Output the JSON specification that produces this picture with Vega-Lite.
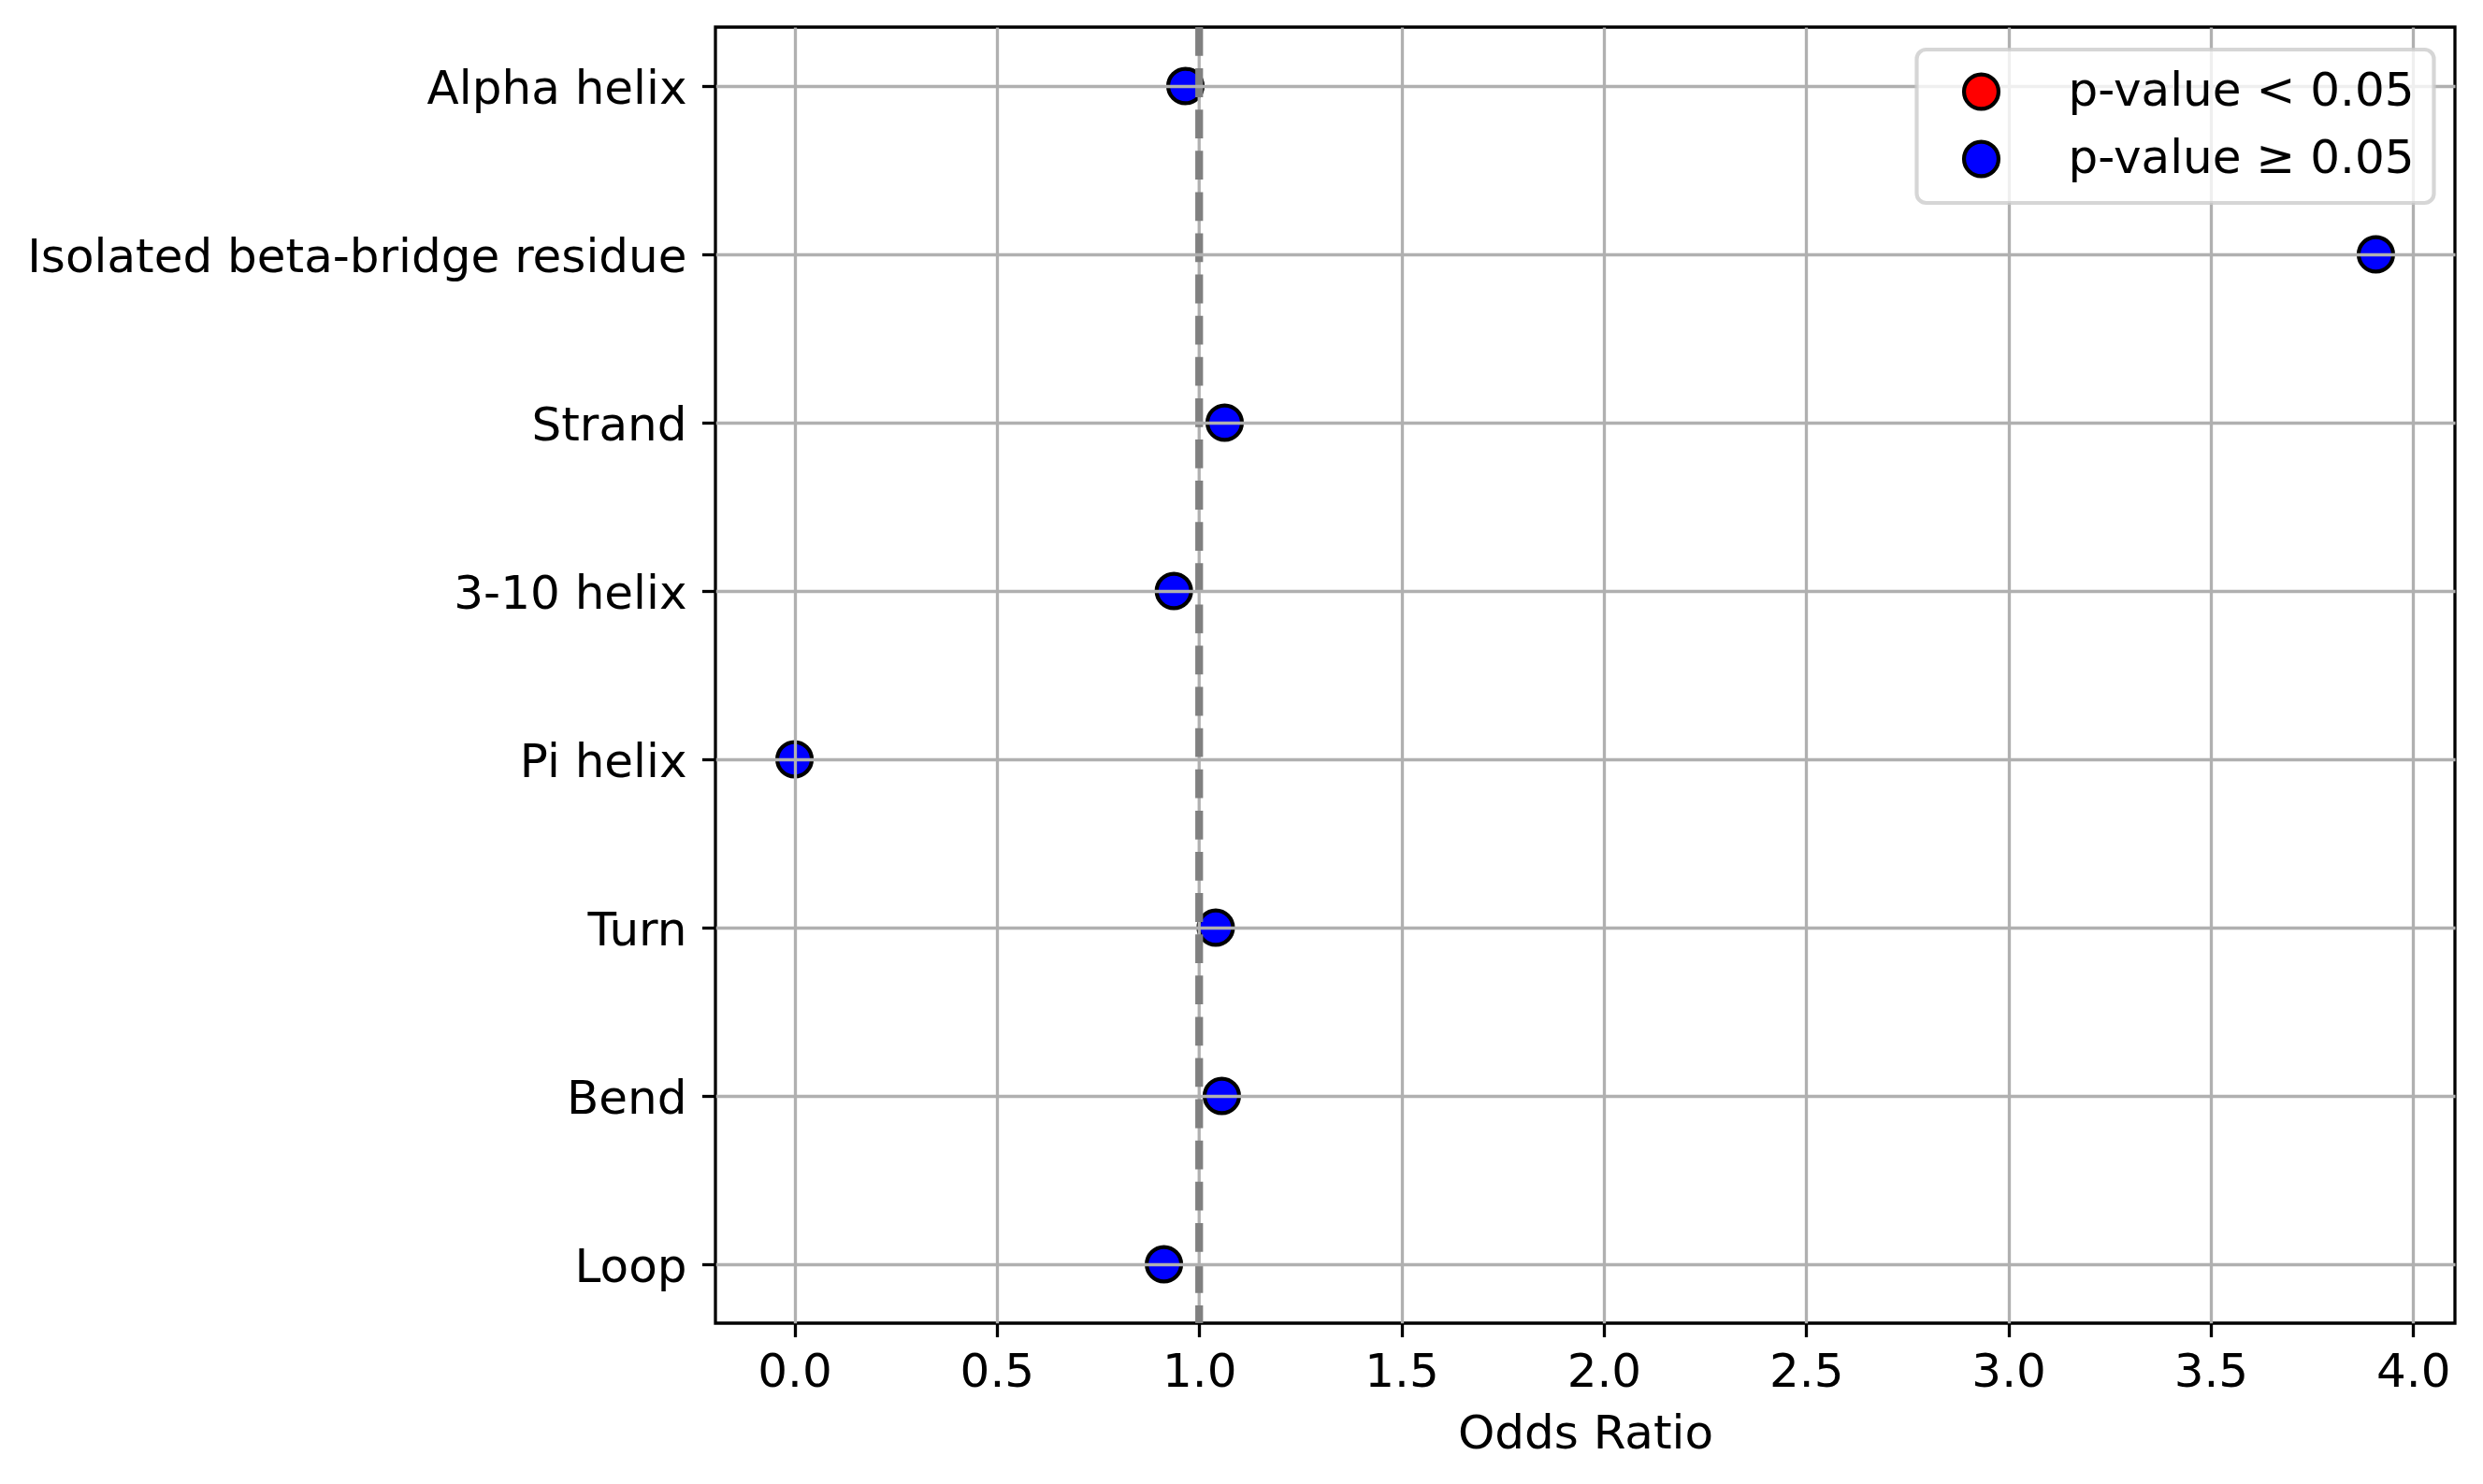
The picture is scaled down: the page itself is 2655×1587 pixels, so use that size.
{
  "$schema": "https://vega.github.io/schema/vega-lite/v6.json",
  "autosize": {"type": "none"},
  "width": 1860,
  "height": 1386,
  "padding": {"left": 765, "top": 29, "right": 30, "bottom": 172},
  "background": "white",
  "config": {
    "view": {"stroke": "black", "strokeWidth": 3.3},
    "font": "DejaVu Sans",
    "legend": {"strokeWidth": 4.2}
  },
  "data": {
    "values": [
      {"structure": "Alpha helix", "odds_ratio": 0.966, "significance": "p-value ≥ 0.05"},
      {"structure": "Isolated beta-bridge residue", "odds_ratio": 3.908, "significance": "p-value ≥ 0.05"},
      {"structure": "Strand", "odds_ratio": 1.063, "significance": "p-value ≥ 0.05"},
      {"structure": "3-10 helix", "odds_ratio": 0.9375, "significance": "p-value ≥ 0.05"},
      {"structure": "Pi helix", "odds_ratio": 0.0, "significance": "p-value ≥ 0.05"},
      {"structure": "Turn", "odds_ratio": 1.041, "significance": "p-value ≥ 0.05"},
      {"structure": "Bend", "odds_ratio": 1.056, "significance": "p-value ≥ 0.05"},
      {"structure": "Loop", "odds_ratio": 0.913, "significance": "p-value ≥ 0.05"}
    ]
  },
  "layer": [
    {
      "mark": {"type": "point", "filled": true, "shape": "circle", "size": 1363, "stroke": "black", "strokeWidth": 4.2, "opacity": 1, "fillOpacity": 1, "strokeOpacity": 1},
      "encoding": {
        "x": {
          "field": "odds_ratio",
          "type": "quantitative",
          "scale": {"domain": [-0.1954, 4.1034], "nice": false, "zero": false},
          "axis": {
            "title": "Odds Ratio",
            "values": [0, 0.5, 1, 1.5, 2, 2.5, 3, 3.5, 4],
            "format": ".1f",
            "zindex": 1,
            "domain": false,
            "grid": true,
            "gridColor": "#b0b0b0",
            "gridWidth": 3.3,
            "gridOpacity": {"condition": {"test": "datum.value === 1", "value": 0}, "value": 1},
            "ticks": true,
            "tickColor": "black",
            "tickWidth": 3.3,
            "tickSize": 14.6,
            "labelFont": "DejaVu Sans",
            "labelFontSize": 50,
            "labelColor": "black",
            "labelBaseline": "alphabetic",
            "labelPadding": 53,
            "labelFlush": false,
            "labelOverlap": false,
            "titleFont": "DejaVu Sans",
            "titleFontSize": 50,
            "titleFontWeight": "normal",
            "titleColor": "black",
            "titleBaseline": "alphabetic",
            "titleY": 133
          }
        },
        "y": {
          "field": "structure",
          "type": "nominal",
          "sort": null,
          "scale": {
            "type": "point",
            "padding": 0.35,
            "domain": ["Alpha helix", "Isolated beta-bridge residue", "Strand", "3-10 helix", "Pi helix", "Turn", "Bend", "Loop"]
          },
          "axis": {
            "title": null,
            "zindex": 1,
            "domain": false,
            "grid": true,
            "gridColor": "#b0b0b0",
            "gridWidth": 3.3,
            "ticks": true,
            "tickColor": "black",
            "tickWidth": 3.3,
            "tickSize": 14.6,
            "labelFont": "DejaVu Sans",
            "labelFontSize": 50,
            "labelColor": "black",
            "labelBaseline": "alphabetic",
            "labelOffset": 18,
            "labelPadding": 16.4,
            "labelLimit": 1000,
            "labelOverlap": false
          }
        },
        "color": {
          "field": "significance",
          "type": "nominal",
          "scale": {"domain": ["p-value < 0.05", "p-value ≥ 0.05"], "range": ["#ff0000", "#0000ff"]},
          "legend": {
            "title": null,
            "orient": "none",
            "legendX": 1284.5,
            "legendY": 24,
            "zindex": 3,
            "direction": "vertical",
            "fillColor": "rgba(255,255,255,0.8)",
            "strokeColor": "rgba(204,204,204,0.8)",
            "cornerRadius": 10,
            "padding": 20,
            "symbolType": "circle",
            "symbolSize": 1363,
            "symbolStrokeColor": "black",
            "symbolStrokeWidth": 4.2,
            "symbolOpacity": 1,
            "symbolOffset": 24,
            "labelFont": "DejaVu Sans",
            "labelFontSize": 50,
            "labelColor": "black",
            "labelOffset": 68,
            "labelLimit": 1000,
            "rowPadding": 18
          }
        }
      }
    },
    {
      "data": {"values": [{}]},
      "mark": {"type": "rule", "color": "#b0b0b0", "strokeWidth": 3.3},
      "encoding": {"x": {"datum": 1}}
    },
    {
      "data": {"values": [{}]},
      "mark": {"type": "rule", "color": "#808080", "strokeWidth": 8.3, "strokeDash": [30.8, 13.3]},
      "encoding": {"x": {"datum": 1}}
    }
  ]
}
